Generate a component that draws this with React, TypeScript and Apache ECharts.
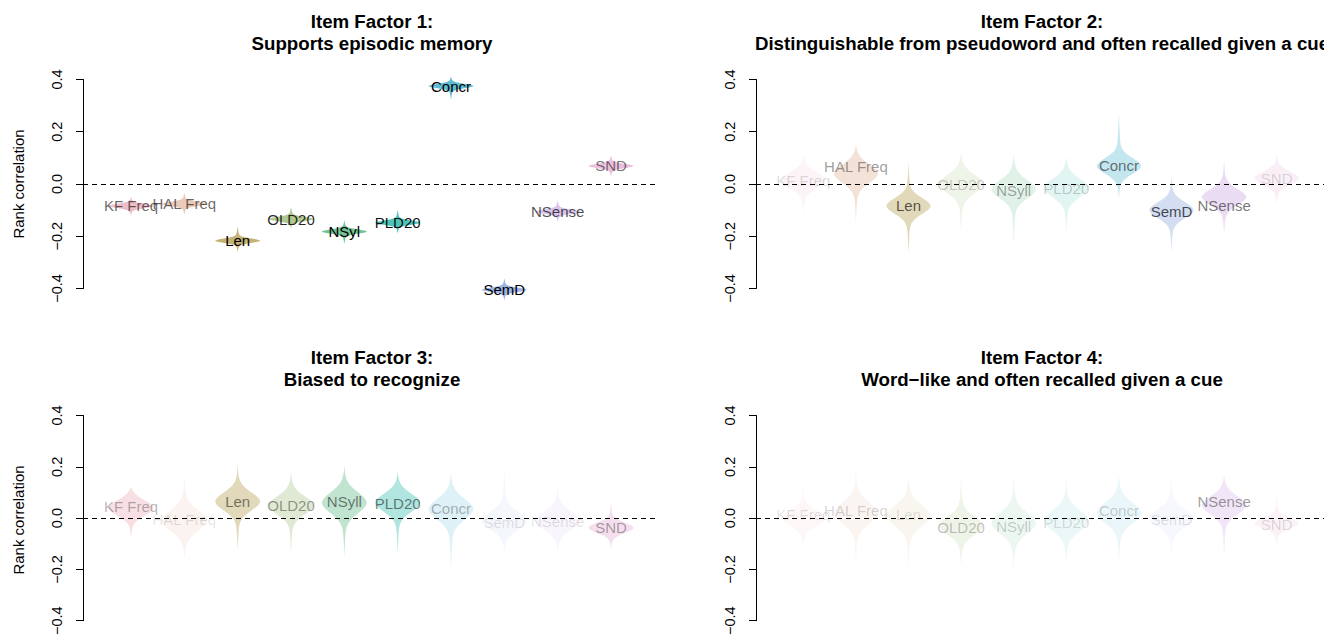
import React, { useEffect, useRef } from "react";
import * as echarts from "echarts";

// ---- Data ----
const variables = ["KF Freq", "HAL Freq", "Len", "OLD20", "NSyll", "PLD20", "Concr", "SemD", "NSense", "SND"];
const labels1 = ["KF Freq", "HAL Freq", "Len", "OLD20", "NSyl", "PLD20", "Concr", "SemD", "NSense", "SND"];
const titles = [
  ["Item Factor 1:", "Supports episodic memory"],
  ["Item Factor 2:", "Distinguishable from pseudoword and often recalled given a cue"],
  ["Item Factor 3:", "Biased to recognize"],
  ["Item Factor 4:", "Word\u2212like and often recalled given a cue"],
];
const yTicks = [-0.4, -0.2, 0.0, 0.2, 0.4];

// Factor 1
const f1Median = [-0.084, -0.076, -0.217, -0.134, -0.182, -0.148, 0.375, -0.405, -0.106, 0.069];
const f1Mode = [-0.084, -0.076, -0.217, -0.134, -0.182, -0.148, 0.375, -0.405, -0.106, 0.069];
const f1Spread = [0.008, 0.008, 0.008, 0.008, 0.008, 0.008, 0.008, 0.008, 0.008, 0.008];
const f1Min = [-0.122, -0.119, -0.259, -0.17, -0.229, -0.189, 0.324, -0.446, -0.144, 0.028];
const f1Max = [-0.048, -0.033, -0.163, -0.087, -0.138, -0.099, 0.413, -0.361, -0.061, 0.111];
const f1Fill = [0.6, 0.55, 0.9, 0.75, 0.9, 0.9, 0.95, 0.9, 0.6, 0.6];
const f1Text = [0.6, 0.6, 1, 0.85, 1, 0.95, 1, 1, 0.7, 0.55];

// Factor 2
const f2Median = [0.015, 0.066, -0.084, 0.0, -0.023, -0.017, 0.069, -0.106, -0.083, 0.022];
const f2Mode = [0.015, 0.04, -0.084, 0.0, -0.02, -0.015, 0.069, -0.1, -0.05, 0.022];
const f2Spread = [0.03, 0.035, 0.03, 0.035, 0.035, 0.035, 0.03, 0.03, 0.03, 0.025];
const f2Min = [-0.118, -0.15, -0.265, -0.19, -0.233, -0.19, -0.055, -0.259, -0.195, -0.08];
const f2Max = [0.105, 0.149, 0.082, 0.12, 0.12, 0.105, 0.27, 0.028, 0.092, 0.117];
const f2Fill = [0.1, 0.3, 0.45, 0.15, 0.2, 0.15, 0.35, 0.4, 0.35, 0.15];
const f2Text = [0.15, 0.4, 0.65, 0.2, 0.35, 0.2, 0.55, 0.7, 0.55, 0.15];

// Factor 3
const f3Median = [0.044, -0.006, 0.063, 0.05, 0.063, 0.057, 0.038, -0.019, -0.013, -0.038];
const f3Mode = [0.04, -0.01, 0.065, 0.05, 0.06, 0.06, 0.035, -0.01, -0.01, -0.038];
const f3Spread = [0.03, 0.04, 0.035, 0.035, 0.04, 0.035, 0.04, 0.035, 0.035, 0.02];
const f3Min = [-0.076, -0.158, -0.127, -0.137, -0.15, -0.137, -0.196, -0.133, -0.133, -0.124];
const f3Max = [0.116, 0.17, 0.21, 0.18, 0.205, 0.18, 0.177, 0.19, 0.133, 0.06];
const f3Fill = [0.3, 0.12, 0.45, 0.3, 0.4, 0.4, 0.2, 0.1, 0.1, 0.3];
const f3Text = [0.3, 0.12, 0.5, 0.4, 0.5, 0.5, 0.3, 0.12, 0.12, 0.35];

// Factor 4
const f4Median = [0.013, 0.03, 0.013, -0.038, -0.032, -0.019, 0.028, -0.006, 0.063, -0.024];
const f4Mode = [0.0, 0.02, 0.01, -0.03, -0.02, -0.01, 0.02, 0.0, 0.05, -0.02];
const f4Spread = [0.03, 0.04, 0.04, 0.035, 0.04, 0.04, 0.04, 0.035, 0.035, 0.02];
const f4Min = [-0.12, -0.177, -0.2, -0.187, -0.2, -0.184, -0.18, -0.152, -0.14, -0.108];
const f4Max = [0.124, 0.19, 0.17, 0.165, 0.17, 0.167, 0.17, 0.165, 0.167, 0.09];
const f4Fill = [0.08, 0.1, 0.1, 0.15, 0.12, 0.1, 0.12, 0.08, 0.25, 0.12];
const f4Text = [0.12, 0.18, 0.12, 0.25, 0.2, 0.15, 0.2, 0.12, 0.4, 0.15];

const palette = ["#E495A5", "#D89F7F", "#BDAB66", "#96B56C", "#65BC8C", "#39BEB1", "#55B8D0", "#91ACE1", "#C29DDE", "#DE94C8"];

const panels = [
  { labels: labels1, median: f1Median, mode: f1Mode, spread: f1Spread, min: f1Min, max: f1Max, fill: f1Fill, text: f1Text },
  { labels: variables, median: f2Median, mode: f2Mode, spread: f2Spread, min: f2Min, max: f2Max, fill: f2Fill, text: f2Text },
  { labels: variables, median: f3Median, mode: f3Mode, spread: f3Spread, min: f3Min, max: f3Max, fill: f3Fill, text: f3Text },
  { labels: variables, median: f4Median, mode: f4Mode, spread: f4Spread, min: f4Min, max: f4Max, fill: f4Fill, text: f4Text },
];

// ---- Layout ----
const FONT = '"Liberation Sans", Arial, Helvetica, sans-serif';
const gridPos = [
  { left: 83, top: 79.5 },
  { left: 756, top: 79.5 },
  { left: 83, top: 415.5 },
  { left: 756, top: 415.5 },
];
const GRID_W = 576;
const GRID_H = 209;
const HALF_W = 0.42;

function rgba(hex: string, a: number) {
  const r = parseInt(hex.slice(1, 3), 16);
  const g = parseInt(hex.slice(3, 5), 16);
  const b = parseInt(hex.slice(5, 7), 16);
  return `rgba(${r},${g},${b},${a})`;
}

function makeRenderItem(p: number) {
  const panel = panels[p];
  return (params: any, api: any) => {
    const idx = params.dataIndex;
    const x = api.value(0);
    const med = api.value(1);
    const mode = api.value(2);
    const s = api.value(3);
    const lo = api.value(4);
    const hi = api.value(5);
    const width = (y: number) => {
      const d = y - mode;
      const g = Math.exp(-0.5 * (d / s) * (d / s));
      const D = d >= 0 ? hi - mode : mode - lo;
      const t = Math.max(0, 1 - Math.abs(d) / D);
      return 0.9 * g + 0.1 * t;
    };
    const N = 200;
    const ys: number[] = [];
    for (let k = 0; k <= N; k++) ys.push(lo + ((hi - lo) * k) / N);
    ys.push(mode);
    ys.sort((a, b) => a - b);
    const left = ys.map((y) => api.coord([x - HALF_W * width(y), y]));
    const right = ys
      .slice()
      .reverse()
      .map((y) => api.coord([x + HALF_W * width(y), y]));
    const c = api.coord([x, med]);
    return {
      type: "group",
      children: [
        {
          type: "polygon",
          shape: { points: left.concat(right) },
          style: { fill: rgba(palette[idx], panel.fill[idx]), stroke: "none" },
        },
        {
          type: "text",
          x: c[0],
          y: c[1],
          z2: 10,
          style: {
            text: panel.labels[idx],
            textAlign: "center",
            textVerticalAlign: "middle",
            font: `15px ${FONT}`,
            fill: `rgba(0,0,0,${panel.text[idx]})`,
          },
        },
      ],
    };
  };
}

export default function App() {
  const ref = useRef<HTMLDivElement>(null);
  useEffect(() => {
    if (!ref.current) return;
    const chart = echarts.init(ref.current, null, { renderer: "svg" });
    const grids = gridPos.map((g) => ({ left: g.left, top: g.top, width: GRID_W, height: GRID_H }));
    const xAxes = gridPos.map((_, i) => ({
      type: "value",
      gridIndex: i,
      min: 0.1,
      max: 10.9,
      show: false,
    }));
    const yAxes = gridPos.map((_, i) => ({
      type: "value",
      gridIndex: i,
      min: yTicks[0],
      max: yTicks[yTicks.length - 1],
      interval: 0.2,
      splitLine: { show: false },
      axisLine: { show: true, lineStyle: { color: "#000", width: 1 } },
      axisTick: { show: true, length: 7, lineStyle: { color: "#000", width: 1 } },
      axisLabel: {
        rotate: 90,
        margin: 19,
        fontSize: 14.5,
        fontFamily: FONT,
        color: "#000",
        formatter: (v: number) => v.toFixed(1).replace("-", "\u2212"),
      },
    }));
    const series: any[] = [];
    panels.forEach((panel, p) => {
      const data = variables.map((_, i) => [
        i + 1,
        panel.median[i],
        panel.mode[i],
        panel.spread[i],
        panel.min[i],
        panel.max[i],
      ]);
      series.push({
        type: "custom",
        xAxisIndex: p,
        yAxisIndex: p,
        renderItem: makeRenderItem(p),
        data,
        z: 2,
        clip: false,
      });
      series.push({
        type: "custom",
        xAxisIndex: p,
        yAxisIndex: p,
        renderItem: () => null,
        data: [],
        z: 5,
        markLine: {
          silent: true,
          symbol: ["none", "none"],
          label: { show: false },
          lineStyle: { type: [5, 4], color: "#000", width: 1.2 },
          data: [{ yAxis: 0 }],
          animation: false,
        },
      });
    });
    const titleCenters = [372, 1042, 372, 1042];
    const titleTops = [21, 21, 357, 357];
    const graphics: any[] = [];
    titles.forEach((t, i) => {
      t.forEach((line, j) => {
        graphics.push({
          type: "text",
          x: titleCenters[i],
          y: titleTops[i] + j * 22,
          style: {
            text: line,
            textAlign: "center",
            textVerticalAlign: "middle",
            font: `bold 18.7px ${FONT}`,
            fill: "#000",
          },
        });
      });
    });
    [184, 520].forEach((cy) => {
      graphics.push({
        type: "text",
        x: 18,
        y: cy,
        rotation: Math.PI / 2,
        style: {
          text: "Rank correlation",
          textAlign: "center",
          textVerticalAlign: "middle",
          font: `15px ${FONT}`,
          fill: "#000",
        },
      });
    });
    chart.setOption({
      animation: false,
      backgroundColor: "#fff",
      grid: grids,
      xAxis: xAxes,
      yAxis: yAxes,
      series,
      graphic: graphics,
    });
    return () => chart.dispose();
  }, []);
  return (
    <div
      ref={ref}
      style={{ position: "absolute", left: 0, top: 0, width: 1324, height: 638 }}
    />
  );
}
